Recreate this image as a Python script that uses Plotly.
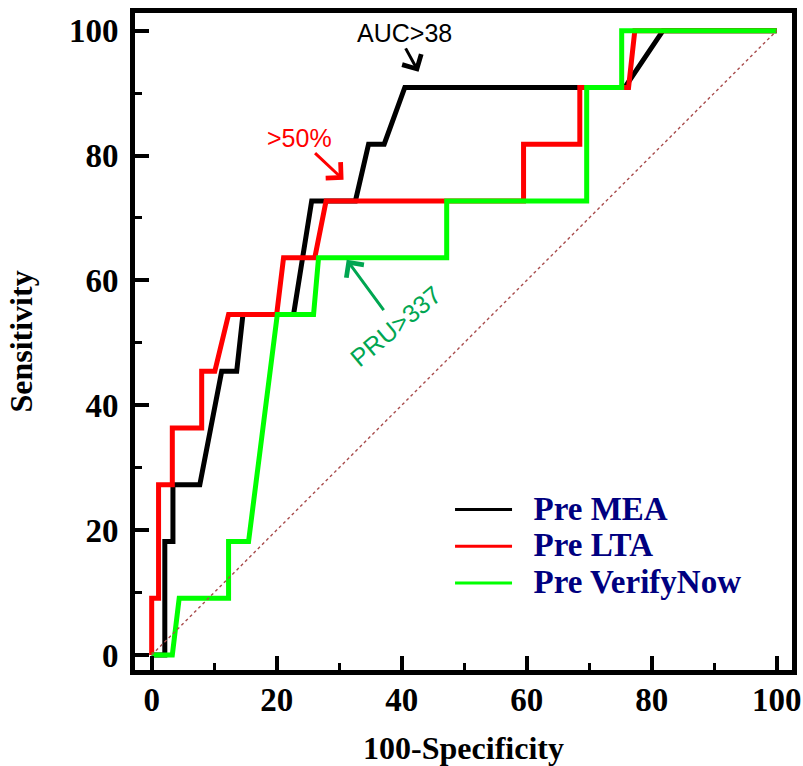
import plotly.graph_objects as go

# ROC curves: 100-Specificity (x) vs Sensitivity (y)
mea_x = [0, 2.1, 2.1, 3.4, 3.4, 7.7, 9.45, 11.2, 13.6, 14.6, 22.7, 24.2, 25.6,
         32.6, 34.7, 37.2, 40.5, 75.7, 81.8, 100]
mea_y = [0, 0, 18.18, 18.18, 27.27, 27.27, 36.36, 45.45, 45.45, 54.55, 54.55,
         63.64, 72.73, 72.73, 81.82, 81.82, 90.91, 90.91, 100, 100]

lta_x = [0, 0, 1.1, 1.1, 3.3, 3.3, 8.0, 8.0, 10.1, 12.3, 20.0, 21.1, 26.1,
         27.9, 59.5, 59.5, 68.5, 68.5, 76.3, 77.3, 100]
lta_y = [0, 9.09, 9.09, 27.27, 27.27, 36.36, 36.36, 45.45, 45.45, 54.55, 54.55,
         63.64, 63.64, 72.73, 72.73, 81.82, 81.82, 90.91, 90.91, 100, 100]

vn_x = [0, 3.3, 4.4, 12.3, 12.3, 15.5, 16.65, 17.8, 18.95, 20.1, 25.9, 26.7,
        47.2, 47.2, 69.6, 69.6, 75.2, 75.2, 100]
vn_y = [0, 0, 9.09, 9.09, 18.18, 18.18, 27.27, 36.36, 45.45, 54.55, 54.55,
        63.64, 63.64, 72.73, 72.73, 90.91, 90.91, 100, 100]

ref_x = [0, 100]
ref_y = [0, 100]

series_names = ["Pre MEA", "Pre LTA", "Pre VerifyNow"]
series_colors = ["#000000", "#ff0000", "#00ff00"]

tick_vals = [0, 20, 40, 60, 80, 100]
tick_text = ["0", "20", "40", "60", "80", "100"]

serif = "Liberation Serif"
sans = "Liberation Sans"

fig = go.Figure()

curves = [(mea_x, mea_y), (lta_x, lta_y), (vn_x, vn_y)]
for (cx, cy), name, color in zip(curves, series_names, series_colors):
    fig.add_trace(go.Scatter(x=cx, y=cy, mode="lines", name=name,
                             line=dict(color=color, width=5),
                             showlegend=False, hoverinfo="skip"))

# chance line
fig.add_trace(go.Scatter(x=ref_x, y=ref_y, mode="lines", showlegend=False,
                         line=dict(color="#a84c4c", width=1.4, dash="dot"),
                         hoverinfo="skip"))

# legend entries (thinner sample lines, larger label text)
for name, color in zip(series_names, series_colors):
    label = '<span style="font-size:33px">\u00a0\u00a0' + name + '</span>'
    fig.add_trace(go.Scatter(x=[None], y=[None], mode="lines", name=label,
                             line=dict(color=color, width=3)))

axis_common = dict(
    automargin=False,
    showgrid=False, zeroline=False,
    showline=True, linecolor="black", linewidth=5, mirror=True,
    ticks="inside", ticklen=14, tickwidth=4, tickcolor="black",
    tickvals=tick_vals, ticktext=tick_text,
    tickfont=dict(family=serif, size=33, color="black", weight="bold"),
    minor=dict(ticks="inside", ticklen=7, tickwidth=3, tickcolor="black",
               dtick=10, tick0=0),
)

title_font = dict(family=serif, size=32, color="black", weight="bold")

fig.update_xaxes(range=[-2.67, 102.45], ticklabelstandoff=-4,
                 title=dict(text="100-Specificity", font=title_font,
                            standoff=24),
                 **axis_common)
fig.update_yaxes(range=[-2.41, 102.83], ticklabelstandoff=5,
                 title=dict(text="Sensitivity", font=title_font,
                            standoff=28),
                 **axis_common)

# threshold call-outs
fig.add_annotation(x=40.5, y=99.6, text="AUC>38", showarrow=False,
                   font=dict(family=sans, size=25, color="black"))
fig.add_annotation(x=42.7, y=93.4, ax=40.5, ay=97.4, axref="x", ayref="y",
                   text="", showarrow=True, arrowhead=4, arrowsize=1.4,
                   arrowwidth=3, arrowcolor="black")

fig.add_annotation(x=23.6, y=82.8, text=">50%", showarrow=False,
                   font=dict(family=sans, size=25, color="#ff0000"))
fig.add_annotation(x=30.7, y=76.1, ax=25.9, ay=80.6, axref="x", ayref="y",
                   text="", showarrow=True, arrowhead=4, arrowsize=1.4,
                   arrowwidth=3, arrowcolor="#ff0000")

fig.add_annotation(x=39.0, y=52.7, text="PRU>337", showarrow=False,
                   textangle=-40,
                   font=dict(family=sans, size=25, color="#00a651"))
fig.add_annotation(x=31.2, y=63.3, ax=37.3, ay=55.0, axref="x", ayref="y",
                   text="", showarrow=True, arrowhead=4, arrowsize=1.4,
                   arrowwidth=3, arrowcolor="#00a651")

fig.update_layout(
    width=803, height=766,
    margin=dict(l=135, r=11, t=13, b=96),
    paper_bgcolor="white", plot_bgcolor="white",
    legend=dict(x=0.4795, y=0.28, xanchor="left", yanchor="top",
                bgcolor="rgba(0,0,0,0)", itemwidth=57,
                font=dict(family=serif, size=26, color="#000080",
                          weight="bold")),
)

fig.write_html("out.html")
